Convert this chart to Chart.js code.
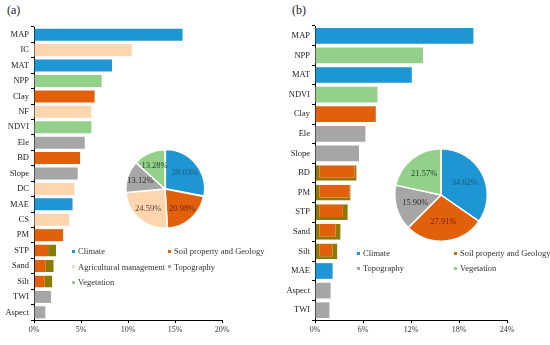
<!DOCTYPE html>
<html>
<head>
<meta charset="utf-8">
<script src="https://cdn.jsdelivr.net/npm/chart.js@4"></script>
<style>
  body { margin: 0; background: #fff; }
  #wrap { position: relative; width: 550px; height: 345px; font-family: "Liberation Serif", "Times New Roman", serif; color: #333; }
  canvas { position: absolute; }
  .panel { position: absolute; font-size: 12px; color: #222; }
  .leg { position: absolute; font-size: 8.5px; white-space: nowrap; line-height: 10px; color: #333; }
  .leg i { display: inline-block; width: 3px; height: 3px; margin-right: 3px; vertical-align: middle; position: relative; top: -1px; }
</style>
</head>
<body>
<div id="wrap">
  <div class="panel" style="left:7px; top:3px;">(a)</div>
  <div class="panel" style="left:292px; top:3px;">(b)</div>
  <canvas id="barA" width="275" height="345" style="left:0; top:0;"></canvas>
  <canvas id="barB" width="275" height="345" style="left:275px; top:0;"></canvas>
  <canvas id="pieA" width="82" height="82" style="left:124px; top:148px;"></canvas>
  <canvas id="pieB" width="94" height="94" style="left:394px; top:148px;"></canvas>
  <div id="legA"></div>
  <div id="legB"></div>
</div>
<script>
// Factor groups and colours
var groupColors = {
  "Climate": "#1E96D4",
  "Soil property and Geology": "#E1600B",
  "Agricultural management": "#FDD6B0",
  "Topography": "#A6A6A6",
  "Vegetation": "#93D18B"
};

// Panel (a) relative importance
var labelsA = ["MAP", "IC", "MAT", "NPP", "Clay", "NF", "NDVI", "Ele", "BD", "Slope", "DC", "MAE", "CS", "PM", "STP", "Sand", "Silt", "TWI", "Aspect"];
var valuesA = [15.8, 10.4, 8.3, 7.2, 6.45, 6.1, 6.1, 5.4, 4.9, 4.65, 4.3, 4.1, 3.75, 3.1, 2.35, 2.1, 1.95, 1.8, 1.2];
var groupsA = ["Climate", "Agricultural management", "Climate", "Vegetation", "Soil property and Geology", "Agricultural management", "Vegetation", "Topography", "Soil property and Geology", "Topography", "Agricultural management", "Climate", "Agricultural management", "Soil property and Geology", "Soil property and Geology", "Soil property and Geology", "Soil property and Geology", "Topography", "Topography"];
var ticksA = [0, 5, 10, 15, 20];

// Panel (b) relative importance
var labelsB = ["MAP", "NPP", "MAT", "NDVI", "Clay", "Ele", "Slope", "BD", "PM", "STP", "Sand", "Silt", "MAE", "Aspect", "TWI"];
var valuesB = [19.8, 13.5, 12.1, 7.8, 7.6, 6.3, 5.5, 5.2, 4.45, 4.1, 3.2, 2.8, 2.2, 1.95, 1.8];
var groupsB = ["Climate", "Vegetation", "Climate", "Vegetation", "Soil property and Geology", "Topography", "Topography", "Soil property and Geology", "Soil property and Geology", "Soil property and Geology", "Soil property and Geology", "Soil property and Geology", "Climate", "Topography", "Topography"];
var ticksB = [0, 6, 12, 18, 24];

// Pie shares
var pieGroupsA = ["Climate", "Soil property and Geology", "Agricultural management", "Topography", "Vegetation"];
var pieValuesA = [28.03, 20.98, 24.59, 13.12, 13.28];
var pieGroupsB = ["Climate", "Soil property and Geology", "Topography", "Vegetation"];
var pieValuesB = [34.62, 27.91, 15.90, 21.57];

var serif = "'Liberation Serif', 'Times New Roman', serif";
var olive = "#8C7A06";

function barChart(id, labels, values, groups, ticks, axisW, padTop, padRight, barPct, borders) {
  return new Chart(document.getElementById(id), {
    type: "bar",
    data: {
      labels: labels,
      datasets: [{
        data: values,
        backgroundColor: groups.map(function (g) { return groupColors[g]; }),
        borderColor: olive,
        borderWidth: borders,
        borderSkipped: false,
        categoryPercentage: 1,
        barPercentage: barPct
      }]
    },
    options: {
      indexAxis: "y",
      responsive: false,
      animation: false,
      layout: { padding: { top: padTop, right: padRight, left: 0, bottom: 0 } },
      plugins: { legend: { display: false }, tooltip: { enabled: false } },
      scales: {
        x: {
          min: ticks[0],
          max: ticks[ticks.length - 1],
          afterBuildTicks: function (axis) { axis.ticks = ticks.map(function (v) { return { value: v }; }); },
          afterFit: function (axis) { axis.height = 25; },
          grid: { drawOnChartArea: false, color: "#000", tickLength: 3 },
          border: { color: "#000", width: 1 },
          ticks: {
            padding: 2,
            color: "#333",
            font: { family: serif, size: 8 },
            callback: function (v) { return v + "%"; }
          }
        },
        y: {
          afterFit: function (axis) { axis.width = axisW; },
          grid: { drawOnChartArea: false, color: "#000", tickLength: 3, offset: true },
          border: { color: "#000", width: 1 },
          ticks: { padding: 2, color: "#222", font: { family: serif, size: 8.5 } }
        }
      }
    }
  });
}

// olive edges seen on some soil bars
var edgeA = labelsA.map(function (l) { return (l === "STP" || l === "Sand" || l === "Silt") ? { right: 8, top: 0, bottom: 0, left: 0 } : 0; });
var rightEdgeB = { BD: 2, PM: 1, STP: 5, Sand: 5, Silt: 5 };
var edgeB = labelsB.map(function (l) { return rightEdgeB[l] ? { left: 4, bottom: 3, right: rightEdgeB[l], top: 0 } : 0; });

barChart("barA", labelsA, valuesA, groupsA, ticksA, 34, 27, 53, 0.78, edgeA);
barChart("barB", labelsB, valuesB, groupsB, ticksB, 40, 26, 43, 0.8, edgeB);

// Percentage labels inside slices
var labelColors = {
  "Climate": "#1d5674",
  "Soil property and Geology": "#7a1c12",
  "Agricultural management": "#5a4630",
  "Topography": "#2e2e2e",
  "Vegetation": "#1f3f1f"
};
var sliceLabels = {
  id: "sliceLabels",
  afterDatasetsDraw: function (chart, args, opts) {
    var ctx = chart.ctx;
    var meta = chart.getDatasetMeta(0);
    var groups = opts.groups;
    ctx.save();
    ctx.font = "8.5px " + serif;
    ctx.textAlign = "center";
    ctx.textBaseline = "middle";
    meta.data.forEach(function (arc, i) {
      var p = arc.getProps(["x", "y", "startAngle", "endAngle", "outerRadius"], true);
      var mid = (p.startAngle + p.endAngle) / 2;
      var r = p.outerRadius * opts.factor;
      ctx.fillStyle = labelColors[groups[i]];
      ctx.fillText(chart.data.datasets[0].data[i].toFixed(2) + "%", p.x + Math.cos(mid) * r, p.y + Math.sin(mid) * r);
    });
    ctx.restore();
  }
};

function pieChart(id, groups, values, offsets, factor) {
  return new Chart(document.getElementById(id), {
    type: "pie",
    data: {
      labels: groups,
      datasets: [{
        data: values,
        backgroundColor: groups.map(function (g) { return groupColors[g]; }),
        borderColor: "#fff",
        borderWidth: 1.5,
        offset: offsets
      }]
    },
    options: {
      responsive: false,
      animation: false,
      plugins: {
        legend: { display: false },
        tooltip: { enabled: false },
        sliceLabels: { groups: groups, factor: factor }
      }
    },
    plugins: [sliceLabels]
  });
}

pieChart("pieA", pieGroupsA, pieValuesA, [2, 0, 0, 0, 0], 0.66);
pieChart("pieB", pieGroupsB, pieValuesB, [0, 0, 0, 0], 0.58);

// Legends (two columns under each pie)
function legend(id, groups, x0, x1, y0, dy) {
  var box = document.getElementById(id);
  groups.forEach(function (g, i) {
    var d = document.createElement("div");
    d.className = "leg";
    d.style.left = (i % 2 === 0 ? x0 : x1) + "px";
    d.style.top = (y0 + Math.floor(i / 2) * dy) + "px";
    d.innerHTML = '<i style="background:' + groupColors[g] + '"></i>' + g;
    box.appendChild(d);
  });
}
legend("legA", pieGroupsA, 72, 168, 246, 15.5);
legend("legB", pieGroupsB, 357, 454, 248, 15);
</script>
</body>
</html>
